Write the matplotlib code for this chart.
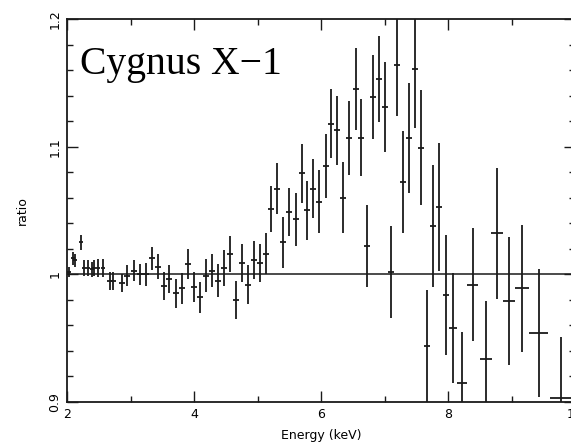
import numpy as np
import matplotlib

matplotlib.use("Agg")

import matplotlib.pyplot as plt
import matplotlib.ticker as mticker

# Bin centres of the spectrum (keV) and their half widths.
energy = [2.03, 2.09, 2.13, 2.22, 2.27, 2.33, 2.39, 2.43, 2.49, 2.57,
          2.68, 2.72, 2.87, 2.94, 3.06, 3.15, 3.24, 3.34, 3.43, 3.53,
          3.61, 3.72, 3.81, 3.91, 4.00, 4.09, 4.19, 4.28, 4.38, 4.47,
          4.57, 4.66, 4.76, 4.85, 4.94, 5.04, 5.13, 5.21, 5.31, 5.40,
          5.50, 5.61, 5.70, 5.78, 5.87, 5.97, 6.08, 6.16, 6.25, 6.35,
          6.44, 6.55, 6.63, 6.72, 6.82, 6.91, 7.01, 7.10, 7.20, 7.29,
          7.39, 7.48, 7.57, 7.67, 7.76, 7.86, 7.97, 8.08, 8.22, 8.39,
          8.60, 8.77, 8.96, 9.17, 9.43, 9.78]
energyErr = [0.03, 0.03, 0.03, 0.03, 0.03, 0.03, 0.03, 0.03, 0.03, 0.03,
             0.045, 0.045, 0.045, 0.045, 0.045, 0.045, 0.045, 0.045, 0.047, 0.047,
             0.047, 0.047, 0.047, 0.047, 0.047, 0.047, 0.047, 0.047, 0.047, 0.047,
             0.047, 0.047, 0.047, 0.047, 0.047, 0.047, 0.047, 0.047, 0.047, 0.047,
             0.047, 0.047, 0.047, 0.047, 0.047, 0.047, 0.047, 0.047, 0.047, 0.047,
             0.047, 0.047, 0.047, 0.047, 0.047, 0.047, 0.047, 0.047, 0.047, 0.047,
             0.047, 0.05, 0.05, 0.05, 0.05, 0.05, 0.05, 0.06, 0.08, 0.09,
             0.1, 0.09, 0.1, 0.11, 0.15, 0.18]

# Data / model ratio and its 1-sigma errors.
ratio = [1.002, 1.0125, 1.011, 1.025, 1.005, 1.005, 1.004, 1.005, 1.005, 1.005,
         0.995, 0.995, 0.993, 0.999, 1.003, 1.000, 1.000, 1.0125, 1.006, 0.991,
         0.996, 0.985, 0.989, 1.008, 0.990, 0.982, 0.999, 1.003, 0.995, 1.005,
         1.016, 0.980, 1.009, 0.992, 1.011, 1.009, 1.016, 1.051, 1.067, 1.025,
         1.049, 1.043, 1.079, 1.050, 1.067, 1.057, 1.085, 1.118, 1.113, 1.060,
         1.107, 1.145, 1.107, 1.022, 1.139, 1.153, 1.131, 1.002, 1.164, 1.072,
         1.107, 1.161, 1.099, 0.944, 1.038, 1.053, 0.984, 0.958, 0.915, 0.992,
         0.934, 1.032, 0.979, 0.989, 0.954, 0.903]
ratioErr = [0.004, 0.005, 0.005, 0.006, 0.006, 0.006, 0.006, 0.006, 0.007, 0.007,
            0.007, 0.007, 0.007, 0.008, 0.008, 0.008, 0.009, 0.009, 0.010, 0.011,
            0.011, 0.011, 0.012, 0.012, 0.012, 0.012, 0.013, 0.013, 0.013, 0.014,
            0.014, 0.015, 0.015, 0.015, 0.015, 0.015, 0.016, 0.018, 0.020, 0.020,
            0.019, 0.021, 0.023, 0.023, 0.023, 0.025, 0.025, 0.027, 0.027, 0.028,
            0.029, 0.032, 0.030, 0.032, 0.033, 0.034, 0.035, 0.036, 0.040, 0.040,
            0.043, 0.046, 0.045, 0.044, 0.048, 0.050, 0.047, 0.043, 0.040, 0.044,
            0.045, 0.051, 0.050, 0.050, 0.050, 0.048]

xTicks = [2, 4, 6, 8, 10]
yTicks = [0.9, 1.0, 1.1, 1.2]
yTickLabels = ["0.9", "1", "1.1", "1.2"]

# Figure settings.
windowWidth = 5.71
windowHeight = 4.46
lineColor = "#1a1a1a"

fig = plt.figure(figsize=(windowWidth, windowHeight), dpi=100, facecolor="white")
# The right edge of the frame runs just past the picture, as in the original.
ax = fig.add_axes([67 / 571, 44 / 446, 508 / 571, 383 / 446])

# Reference line at ratio = 1.
ax.axhline(1.0, color=lineColor, linewidth=1.1, zorder=1)

# Data points with error bars, no markers.
ax.errorbar(energy, ratio, xerr=energyErr, yerr=ratioErr, fmt='none',
            ecolor=lineColor, elinewidth=1.3, capsize=0, zorder=2)

ax.set_xlim(2, 10)
ax.set_ylim(0.9, 1.2)

# Ticks on all four sides, pointing inwards.
ax.set_xticks(xTicks)
ax.set_yticks(yTicks)
ax.set_yticklabels(yTickLabels, rotation=90, va='center')
ax.xaxis.set_minor_locator(mticker.MultipleLocator(1))
ax.yaxis.set_minor_locator(mticker.MultipleLocator(0.02))
ax.tick_params(which='both', direction='in', top=True, right=True,
               color=lineColor, width=1.0)
ax.tick_params(which='major', length=8, labelsize=9, pad=4)
ax.tick_params(which='minor', length=4)
for spine in ax.spines.values():
  spine.set_linewidth(1.3)
  spine.set_color(lineColor)

ax.set_xlabel("Energy (keV)", fontsize=9, labelpad=6)
ax.set_ylabel("ratio", fontsize=9, labelpad=14)

# Source name in the top left corner.
ax.text(0.026, 0.93, "Cygnus X\u22121", transform=ax.transAxes,
        family="Liberation Serif", fontsize=28.5, va='top', ha='left')

fig.savefig("out.png", dpi=100, facecolor=fig.get_facecolor())
plt.close()
